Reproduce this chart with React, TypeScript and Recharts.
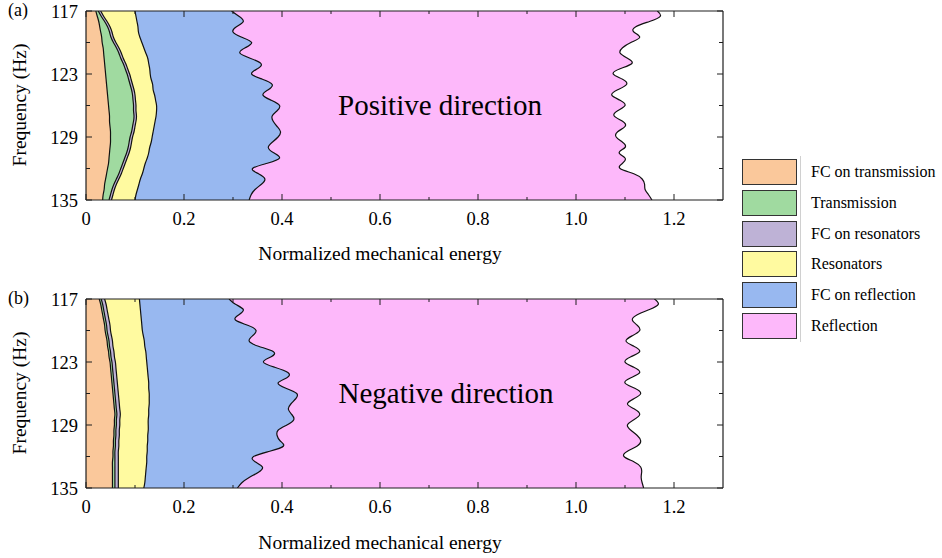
import React from "react";
import { Area, AreaChart, XAxis, YAxis } from "recharts";

// frequency grid (Hz)
const freq = [
  117, 117.5, 118, 118.5, 119, 119.5, 120, 120.5, 121, 121.5, 122, 122.5, 123,
  123.5, 124, 124.5, 125, 125.5, 126, 126.5, 127, 127.5, 128, 128.5, 129, 129.5,
  130, 130.5, 131, 131.5, 132, 132.5, 133, 133.5, 134, 134.5, 135,
];

// (a) positive direction - outer edge of each band
const posFcTrans = [0.020, 0.023, 0.026, 0.028, 0.030, 0.032, 0.033, 0.035, 0.036, 0.037, 0.038, 0.039, 0.040, 0.041, 0.042, 0.043, 0.044, 0.045, 0.046, 0.047, 0.048, 0.048, 0.049, 0.050, 0.050, 0.050, 0.049, 0.048, 0.047, 0.046, 0.044, 0.042, 0.040, 0.038, 0.037, 0.035, 0.034];
const posTrans = [0.025, 0.031, 0.038, 0.044, 0.048, 0.051, 0.056, 0.062, 0.067, 0.071, 0.076, 0.080, 0.084, 0.087, 0.090, 0.093, 0.095, 0.096, 0.097, 0.097, 0.098, 0.097, 0.095, 0.093, 0.090, 0.088, 0.086, 0.083, 0.079, 0.075, 0.071, 0.067, 0.062, 0.057, 0.053, 0.050, 0.047];
const posFcRes = [0.030, 0.036, 0.043, 0.049, 0.053, 0.056, 0.061, 0.067, 0.072, 0.076, 0.081, 0.085, 0.089, 0.092, 0.095, 0.098, 0.100, 0.101, 0.102, 0.102, 0.103, 0.102, 0.100, 0.098, 0.095, 0.093, 0.091, 0.088, 0.084, 0.080, 0.076, 0.072, 0.067, 0.062, 0.058, 0.055, 0.052];
const posRes = [0.100, 0.102, 0.104, 0.106, 0.107, 0.110, 0.114, 0.118, 0.122, 0.126, 0.128, 0.130, 0.131, 0.133, 0.136, 0.137, 0.140, 0.142, 0.144, 0.144, 0.143, 0.141, 0.139, 0.137, 0.135, 0.133, 0.130, 0.128, 0.125, 0.121, 0.118, 0.115, 0.111, 0.108, 0.105, 0.102, 0.100];
const posFcRefl = [0.297, 0.312, 0.321, 0.307, 0.300, 0.318, 0.338, 0.325, 0.314, 0.335, 0.357, 0.350, 0.338, 0.360, 0.380, 0.372, 0.361, 0.378, 0.395, 0.390, 0.380, 0.382, 0.390, 0.397, 0.392, 0.380, 0.372, 0.383, 0.395, 0.370, 0.340, 0.352, 0.365, 0.358, 0.345, 0.337, 0.333];
const posRefl = [1.166, 1.172, 1.150, 1.122, 1.118, 1.130, 1.112, 1.095, 1.090, 1.105, 1.114, 1.090, 1.076, 1.095, 1.103, 1.085, 1.073, 1.090, 1.100, 1.085, 1.078, 1.095, 1.100, 1.085, 1.082, 1.095, 1.100, 1.088, 1.100, 1.095, 1.090, 1.118, 1.135, 1.140, 1.141, 1.148, 1.155];

// (b) negative direction
const negFcTrans = [0.027, 0.030, 0.032, 0.034, 0.036, 0.038, 0.039, 0.041, 0.043, 0.044, 0.046, 0.047, 0.049, 0.050, 0.051, 0.052, 0.053, 0.054, 0.055, 0.056, 0.057, 0.058, 0.059, 0.058, 0.058, 0.057, 0.057, 0.056, 0.056, 0.055, 0.055, 0.054, 0.054, 0.054, 0.054, 0.054, 0.054];
const negTrans = [0.031, 0.034, 0.036, 0.038, 0.040, 0.042, 0.043, 0.045, 0.047, 0.048, 0.050, 0.051, 0.053, 0.054, 0.055, 0.056, 0.057, 0.058, 0.059, 0.060, 0.061, 0.062, 0.063, 0.062, 0.062, 0.061, 0.061, 0.060, 0.060, 0.059, 0.059, 0.059, 0.059, 0.059, 0.059, 0.059, 0.059];
const negFcRes = [0.038, 0.041, 0.043, 0.045, 0.047, 0.049, 0.050, 0.052, 0.054, 0.055, 0.057, 0.058, 0.060, 0.061, 0.062, 0.063, 0.064, 0.065, 0.066, 0.067, 0.068, 0.069, 0.070, 0.069, 0.069, 0.068, 0.068, 0.067, 0.067, 0.066, 0.066, 0.066, 0.066, 0.066, 0.066, 0.066, 0.066];
const negRes = [0.109, 0.110, 0.111, 0.112, 0.113, 0.114, 0.115, 0.117, 0.119, 0.120, 0.122, 0.123, 0.124, 0.125, 0.126, 0.127, 0.128, 0.128, 0.129, 0.129, 0.129, 0.128, 0.128, 0.127, 0.127, 0.127, 0.126, 0.126, 0.125, 0.125, 0.124, 0.124, 0.123, 0.122, 0.121, 0.120, 0.118];
const negFcRefl = [0.292, 0.305, 0.321, 0.312, 0.305, 0.330, 0.347, 0.340, 0.333, 0.352, 0.382, 0.378, 0.362, 0.385, 0.412, 0.410, 0.392, 0.408, 0.430, 0.428, 0.418, 0.413, 0.420, 0.424, 0.410, 0.392, 0.390, 0.396, 0.403, 0.375, 0.342, 0.345, 0.360, 0.352, 0.333, 0.318, 0.309];
const negRefl = [1.160, 1.168, 1.150, 1.125, 1.115, 1.125, 1.130, 1.115, 1.102, 1.118, 1.130, 1.112, 1.100, 1.118, 1.130, 1.112, 1.100, 1.120, 1.132, 1.118, 1.105, 1.120, 1.130, 1.118, 1.105, 1.112, 1.125, 1.132, 1.125, 1.105, 1.098, 1.118, 1.132, 1.134, 1.133, 1.135, 1.138];

const names = ["FC on transmission", "Transmission", "FC on resonators", "Resonators", "FC on reflection", "Reflection"];
const keys = ["fcTrans", "trans", "fcRes", "res", "fcRefl", "refl"];
const fills = ["#FAC89B", "#A0DAA0", "#BEB2D6", "#FFFAA0", "#98B8F0", "#FDB8FA"];

const xTicks = [0, 0.1, 0.2, 0.3, 0.4, 0.5, 0.6, 0.7, 0.8, 0.9, 1.0, 1.1, 1.2];
const xMajor = [0, 0.2, 0.4, 0.6, 0.8, 1.0, 1.2];
const xMajorLabels = ["0", "0.2", "0.4", "0.6", "0.8", "1.0", "1.2"];
const yTicks = [117, 120, 123, 126, 129, 132, 135];
const yMajor = [117, 123, 129, 135];

const FONT = '"Liberation Serif", "Times New Roman", serif';
const AX = "#1e1e1e";

const majorIdx = (arr: number[], v: number) => arr.findIndex((m) => Math.abs(m - v) < 1e-6);

function BottomTick(p: any) {
  const i = majorIdx(xMajor, p.payload.value);
  return (
    <g>
      <line x1={p.x} x2={p.x} y1={p.y} y2={p.y - (i >= 0 ? 6 : 3)} stroke={AX} />
      {i >= 0 && (
        <text x={p.x} y={p.y + 25} textAnchor="middle" fontSize={18.5} fontFamily={FONT} fill="#000">
          {xMajorLabels[i]}
        </text>
      )}
    </g>
  );
}

function TopTick(p: any) {
  const i = majorIdx(xMajor, p.payload.value);
  return <line x1={p.x} x2={p.x} y1={p.y} y2={p.y + (i >= 0 ? 6 : 3)} stroke={AX} />;
}

function LeftTick(p: any) {
  const i = majorIdx(yMajor, p.payload.value);
  return (
    <g>
      <line x1={p.x} x2={p.x + (i >= 0 ? 6 : 4)} y1={p.y} y2={p.y} stroke={AX} />
      {i >= 0 && (
        <text x={p.x - 8} y={p.y + 6.5} textAnchor="end" fontSize={18.5} fontFamily={FONT} fill="#000">
          {yMajor[i]}
        </text>
      )}
    </g>
  );
}

function RightTick(p: any) {
  const i = majorIdx(yMajor, p.payload.value);
  return <line x1={p.x} x2={p.x - (i >= 0 ? 6 : 4)} y1={p.y} y2={p.y} stroke={AX} />;
}

function buildRows(edges: number[][]) {
  return freq.map((f, i) => {
    const row: Record<string, number> = { f };
    keys.forEach((k, j) => (row[k] = edges[j][i]));
    return row;
  });
}

function Panel({ top, edges }: { top: number; edges: number[][] }) {
  const data = buildRows(edges);
  return (
    <div style={{ position: "absolute", left: 0, top }}>
      <AreaChart
        width={730}
        height={258}
        data={data}
        layout="vertical"
        margin={{ top: 10, right: 6, bottom: 28, left: 46 }}
      >
        <XAxis
          type="number"
          domain={[0, 1.3]}
          ticks={xTicks}
          interval={0}
          height={30}
          tickSize={0}
          tickMargin={0}
          tickLine={false}
          axisLine={{ stroke: AX, strokeWidth: 1.2 }}
          tick={(p: any) => <BottomTick {...p} />}
          allowDataOverflow
        />
        <XAxis
          xAxisId="t"
          orientation="top"
          type="number"
          domain={[0, 1.3]}
          ticks={xTicks}
          interval={0}
          height={1}
          tickSize={0}
          tickMargin={0}
          tickLine={false}
          axisLine={{ stroke: AX, strokeWidth: 1.2 }}
          tick={(p: any) => <TopTick {...p} />}
          allowDataOverflow
        />
        <YAxis
          type="number"
          dataKey="f"
          domain={[117, 135]}
          ticks={yTicks}
          interval={0}
          width={40}
          tickSize={0}
          tickMargin={0}
          tickLine={false}
          axisLine={{ stroke: AX, strokeWidth: 1.2 }}
          tick={(p: any) => <LeftTick {...p} />}
          allowDataOverflow
        />
        <YAxis
          yAxisId="r"
          orientation="right"
          type="number"
          dataKey="f"
          domain={[117, 135]}
          ticks={yTicks}
          interval={0}
          width={1}
          tickSize={0}
          tickMargin={0}
          tickLine={false}
          axisLine={{ stroke: AX, strokeWidth: 1.2 }}
          tick={(p: any) => <RightTick {...p} />}
          allowDataOverflow
        />
        {[...keys].reverse().map((k) => {
          const j = keys.indexOf(k);
          return (
            <Area
              key={k}
              dataKey={k}
              name={names[j]}
              type="natural"
              fill={fills[j]}
              fillOpacity={1}
              stroke="#111"
              strokeWidth={1.2}
              dot={false}
              activeDot={false}
              isAnimationActive={false}
            />
          );
        })}
      </AreaChart>
    </div>
  );
}

export default function App() {
  const posEdges = [posFcTrans, posTrans, posFcRes, posRes, posFcRefl, posRefl];
  const negEdges = [negFcTrans, negTrans, negFcRes, negRes, negFcRefl, negRefl];
  const txt = { fontFamily: FONT, fill: "#000" };
  return (
    <div style={{ position: "absolute", left: 0, top: 0, width: 942, height: 558, background: "#fff", overflow: "hidden" }}>
      <Panel top={0} edges={posEdges} />
      <Panel top={288} edges={negEdges} />

      <svg width={942} height={558} style={{ position: "absolute", left: 0, top: 0, pointerEvents: "none" }}>
        <text x={8} y={16} fontSize={18} {...txt}>(a)</text>
        <text x={8} y={304} fontSize={18} {...txt}>(b)</text>
        <text transform="translate(26,105) rotate(-90)" textAnchor="middle" fontSize={19.5} {...txt}>Frequency (Hz)</text>
        <text transform="translate(26,393) rotate(-90)" textAnchor="middle" fontSize={19.5} {...txt}>Frequency (Hz)</text>
        <text x={380} y={260} textAnchor="middle" fontSize={19.5} {...txt}>Normalized mechanical energy</text>
        <text x={380} y={549} textAnchor="middle" fontSize={19.5} {...txt}>Normalized mechanical energy</text>
        <text x={440} y={115} textAnchor="middle" fontSize={29} {...txt}>Positive direction</text>
        <text x={446} y={403} textAnchor="middle" fontSize={29} {...txt}>Negative direction</text>
      </svg>

      <div style={{ position: "absolute", left: 800, top: 156, width: 1, height: 186, background: "#d0d0d0" }} />
      {names.map((n, i) => (
        <div key={n} style={{ position: "absolute", left: 742, top: 159 + i * 30.8, height: 26, display: "flex", alignItems: "center" }}>
          <div style={{ width: 55, height: 26, boxSizing: "border-box", border: "1.5px solid #333", background: fills[i] }} />
          <span style={{ marginLeft: 14, fontFamily: FONT, fontSize: 16, color: "#000", whiteSpace: "nowrap" }}>{n}</span>
        </div>
      ))}
    </div>
  );
}
